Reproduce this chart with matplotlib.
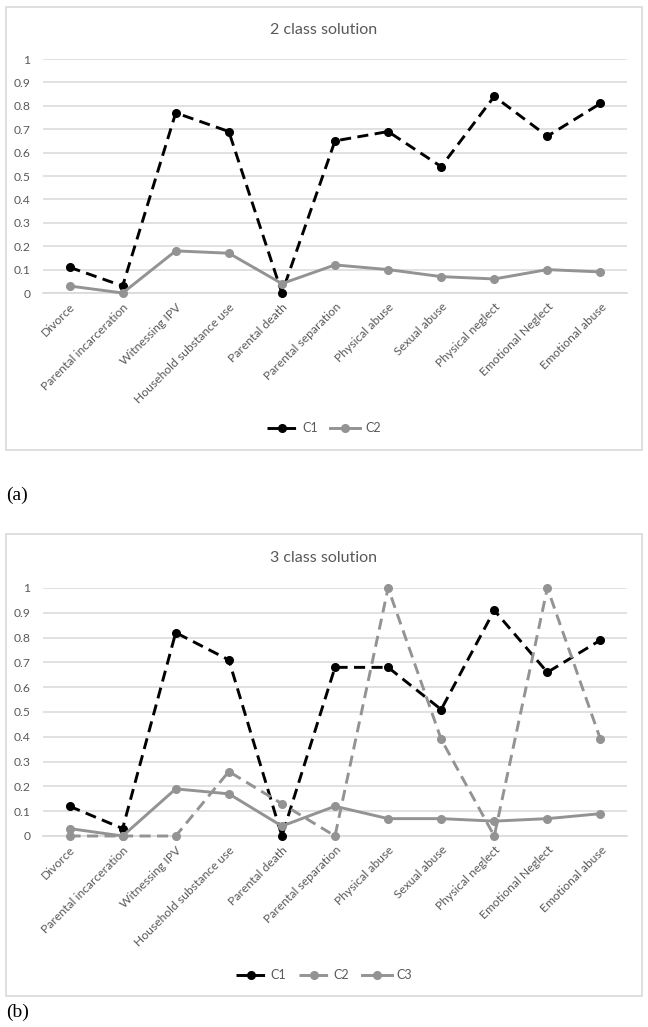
import numpy as np
import matplotlib
matplotlib.use('Agg')
import matplotlib.pyplot as plt
from matplotlib.patches import Rectangle

categories = ['Divorce', 'Parental incarceration', 'Witnessing IPV', 'Household substance use',
              'Parental death', 'Parental separation', 'Physical abuse', 'Sexual abuse',
              'Physical neglect', 'Emotional Neglect', 'Emotional abuse']

# 2 class solution
a_c1 = [0.11, 0.03, 0.77, 0.69, 0.00, 0.65, 0.69, 0.54, 0.84, 0.67, 0.81]
a_c2 = [0.03, 0.00, 0.18, 0.17, 0.04, 0.12, 0.10, 0.07, 0.06, 0.10, 0.09]

# 3 class solution
b_c1 = [0.12, 0.03, 0.82, 0.71, 0.00, 0.68, 0.68, 0.51, 0.91, 0.66, 0.79]
b_c2 = [0.00, 0.00, 0.00, 0.26, 0.13, 0.00, 1.00, 0.39, 0.00, 1.00, 0.39]
b_c3 = [0.03, 0.00, 0.19, 0.17, 0.04, 0.12, 0.07, 0.07, 0.06, 0.07, 0.09]

yticks = [0, 0.1, 0.2, 0.3, 0.4, 0.5, 0.6, 0.7, 0.8, 0.9, 1]
ytick_labels = ['0', '0.1', '0.2', '0.3', '0.4', '0.5', '0.6', '0.7', '0.8', '0.9', '1']

plt.rcParams['font.family'] = ['Lato', 'DejaVu Sans']

TXT = '#595959'
GRID = '#d9d9d9'
GRAY = '#939393'
DASH = (0, (3.8, 2.2))

fig = plt.figure(figsize=(6.48, 10.27), dpi=100)
H = 1027.0
W = 648.0


def px_box(x0, y0, x1, y1):
    return [x0 / W, 1 - y1 / H, (x1 - x0) / W, (y1 - y0) / H]


def style_axes(ax, title, title_y):
    x = np.arange(len(categories))
    ax.set_xlim(-0.5, len(categories) - 0.5)
    ax.set_ylim(0, 1)
    ax.set_yticks(yticks)
    ax.set_yticklabels(ytick_labels, color=TXT, fontsize=8.7)
    ax.set_xticks(x)
    ax.set_xticklabels(categories, rotation=45, ha='right', rotation_mode='anchor',
                       color=TXT, fontsize=8.7)
    ax.tick_params(axis='both', length=0)
    ax.tick_params(axis='y', pad=9)
    ax.tick_params(axis='x', pad=6)
    for s in ['top', 'right', 'left']:
        ax.spines[s].set_visible(False)
    ax.spines['bottom'].set_color(GRID)
    ax.spines['bottom'].set_linewidth(1.2)
    ax.yaxis.grid(True, color=GRID, linewidth=1.1)
    ax.set_axisbelow(True)
    fig.text(0.5, 1 - title_y / H, title, ha='center', va='center', color=TXT, fontsize=11.5)


# frames
for box in [(6, 7, 642, 450), (6, 534, 642, 996)]:
    l, b, w, h = px_box(*box)
    fig.patches.append(Rectangle((l, b), w, h, transform=fig.transFigure, fill=False,
                                 edgecolor=GRID, linewidth=1.2))

x = np.arange(len(categories))

# panel (a)
ax1 = fig.add_axes(px_box(43, 59, 627, 293))
ax1.plot(x, a_c1, color='black', linestyle=DASH, linewidth=2.1, marker='o', markersize=5.5,
         label='C1', clip_on=False, zorder=3)
ax1.plot(x, a_c2, color=GRAY, linestyle='-', linewidth=2.1, marker='o', markersize=5.5,
         label='C2', clip_on=False, zorder=3)
style_axes(ax1, '2 class solution', 30)
ax1.legend(loc='center', bbox_to_anchor=(0.5, 1 - 428 / H), bbox_transform=fig.transFigure,
           ncol=2, frameon=False, fontsize=9, labelcolor=TXT, handlelength=2.4,
           columnspacing=1.0, handletextpad=0.4)

# panel (b)
ax2 = fig.add_axes(px_box(43, 588, 627, 836))
ax2.plot(x, b_c1, color='black', linestyle=DASH, linewidth=2.1, marker='o', markersize=5.5,
         label='C1', clip_on=False, zorder=3)
ax2.plot(x, b_c2, color=GRAY, linestyle=DASH, linewidth=2.1, marker='o', markersize=5.5,
         label='C2', clip_on=False, zorder=3)
ax2.plot(x, b_c3, color=GRAY, linestyle='-', linewidth=2.1, marker='o', markersize=5.5,
         label='C3', clip_on=False, zorder=3)
style_axes(ax2, '3 class solution', 558)
ax2.legend(loc='center', bbox_to_anchor=(0.5, 1 - 975 / H), bbox_transform=fig.transFigure,
           ncol=3, frameon=False, fontsize=9, labelcolor=TXT, handlelength=2.4,
           columnspacing=1.0, handletextpad=0.4)

fig.text(6 / W, 1 - 495 / H, '(a)', ha='left', va='center', fontsize=14,
         family=['Liberation Serif'], color='black')
fig.text(6 / W, 1 - 1012 / H, '(b)', ha='left', va='center', fontsize=14,
         family=['Liberation Serif'], color='black')

fig.savefig('out.png', dpi=100)
